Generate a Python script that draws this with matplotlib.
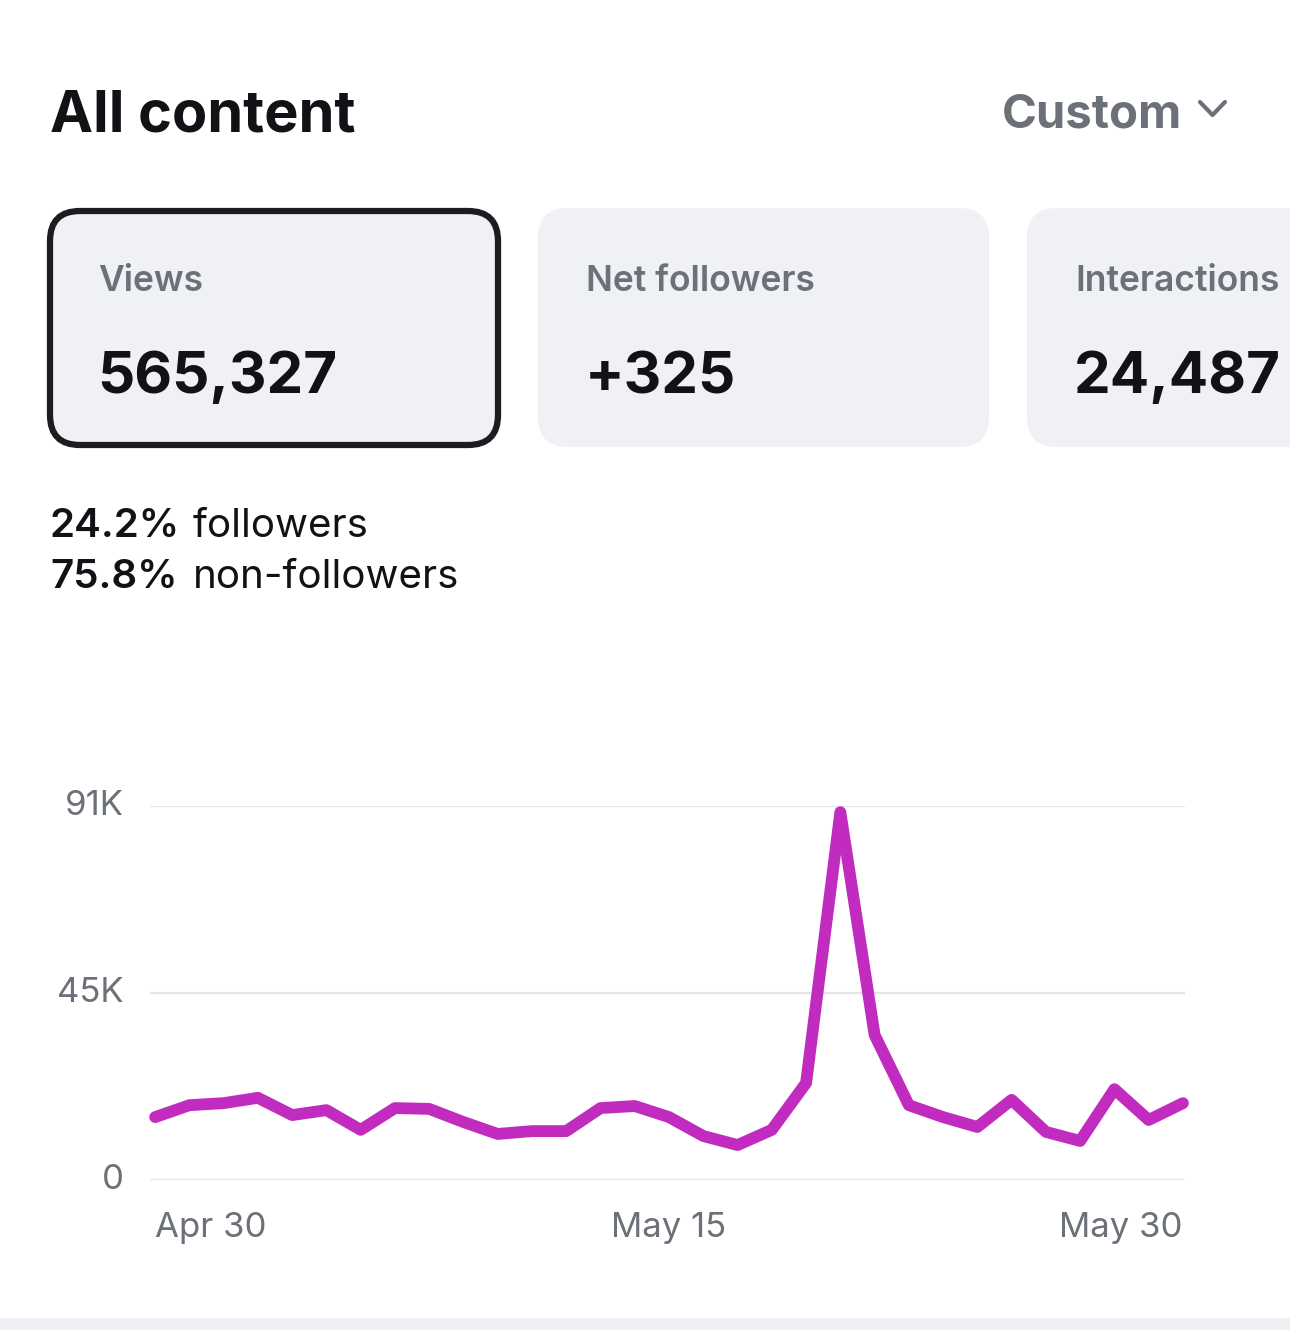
import matplotlib
matplotlib.use("Agg")
import matplotlib.pyplot as plt
from matplotlib.patches import FancyBboxPatch, Rectangle
import numpy as np

plt.rcParams['font.family'] = ['Inter', 'DejaVu Sans']

# data (views per day, Apr 30 -> May 30)
jours = np.arange(31)
vues = [15.3, 18.2, 18.7, 20.0, 15.8, 17.0, 12.2, 17.5, 17.3, 14.1,
        11.2, 11.9, 11.9, 17.5, 18.0, 15.3, 10.7, 8.5, 12.2, 23.6,
        89.5, 35.3, 18.2, 15.3, 12.9, 19.5, 11.7, 9.5, 22.1, 14.6, 18.7]
vues = np.array(vues) * 1000
y_ticks = [0, 45500, 91000]
y_labels = ['0', '45K', '91K']
x_ticks = [0, 15, 30]
x_labels = ['Apr 30', 'May 15', 'May 30']

cartes = ['Views', 'Net followers', 'Interactions']
valeurs = ['565,327', '+325', '24,487']
parts = ['24.2%', '75.8%']
parts_lbl = ['followers', 'non-followers']

W, H = 1290, 1330
GRIS = '#6b7079'
NOIR = '#111216'
FOND = '#f0f1f5'

fig = plt.figure(figsize=(W / 100, H / 100), dpi=100)
fig.patch.set_facecolor('white')

# fond en coordonnees pixels
bg = fig.add_axes([0, 0, 1, 1])
bg.set_xlim(0, W)
bg.set_ylim(H, 0)
bg.axis('off')

bg.text(50, 132, 'All content', fontsize=41.5, fontweight='bold', color=NOIR, va='baseline')
bg.text(1002, 127, 'Custom', fontsize=34, fontweight='bold', color=GRIS, va='baseline')
bg.plot([1200, 1212.5, 1225], [102, 115, 102], color=GRIS, lw=3, solid_capstyle='round',
        solid_joinstyle='round')

# cartes
boites = [(50, 211, 448, 234), (538, 208, 451, 239), (1027, 208, 420, 239)]
for i, (x0, y0, w, h) in enumerate(boites):
    if i == 0:
        p = FancyBboxPatch((x0, y0), w, h, boxstyle='round,pad=0,rounding_size=30',
                           facecolor=FOND, edgecolor='#1c1d21', lw=4.5)
    else:
        p = FancyBboxPatch((x0, y0), w, h, boxstyle='round,pad=0,rounding_size=30',
                           facecolor=FOND, edgecolor='none')
    bg.add_patch(p)
    bg.text(x0 + 48, 291, cartes[i], fontsize=25.5, fontweight='semibold', color=GRIS, va='baseline')
    bg.text(x0 + 47, 393, valeurs[i], fontsize=42, fontweight='bold', color=NOIR, va='baseline')

for k in range(2):
    yb = 537 + k * 51
    bg.text(50, yb, parts[k], fontsize=29, fontweight='semibold', color=NOIR, va='baseline')
    bg.text(193, yb, parts_lbl[k], fontsize=29, color=NOIR, va='baseline')

bg.add_patch(Rectangle((0, 1318), W, 12, facecolor='#efeff4', edgecolor='none'))

# le graphe
ax = fig.add_axes([150 / W, 1 - 1180 / H, 1035 / W, 374 / H])
ax.set_facecolor('none')
ax.plot(jours, vues, color='#c12bc0', lw=8.5, solid_capstyle='round',
        solid_joinstyle='round', clip_on=False, zorder=3)
ax.set_xlim(-0.15, 30.06)
ax.set_ylim(0, 91000)
ax.set_yticks(y_ticks)
ax.set_yticklabels(y_labels)
ax.set_xticks(x_ticks)
ax.set_xticklabels(x_labels)
for s in ax.spines.values():
    s.set_visible(False)
ax.grid(axis='y', color='#e4e4ea', lw=1.6)
ax.tick_params(length=0, labelsize=25, labelcolor=GRIS)
ax.tick_params(axis='y', pad=19)
ax.tick_params(axis='x', pad=23)
lab = ax.get_xticklabels()
lab[0].set_ha('left')
lab[2].set_ha('right')
for t in ax.get_yticklabels():
    t.set_va('center')

fig.savefig('out.png', dpi=100)
